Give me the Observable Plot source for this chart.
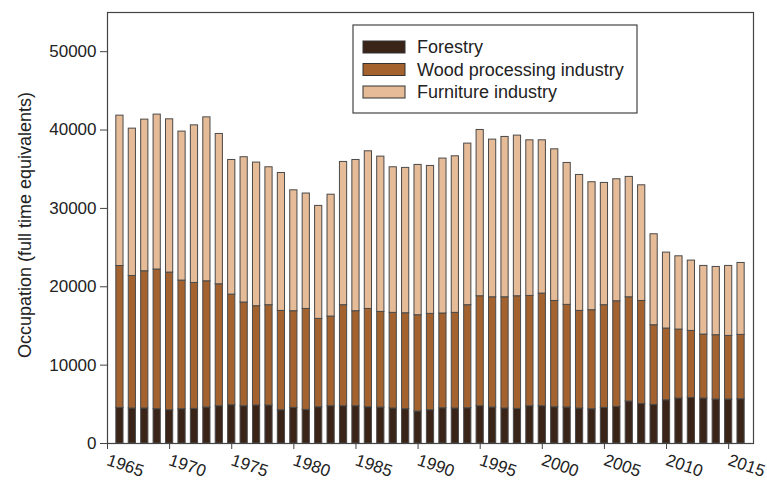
<!DOCTYPE html>
<html>
<head>
<meta charset="utf-8">
<script src="https://cdn.jsdelivr.net/npm/d3@7"></script>
<script src="https://cdn.jsdelivr.net/npm/@observablehq/plot@0.6"></script>
<style>
  html, body { margin: 0; padding: 0; background: #fff; }
  #chart svg { display: block; font-family: "Liberation Sans", Arial, sans-serif; }
</style>
</head>
<body>
<div id="chart"></div>
<script>
// Years shown by the bars
const years = d3.range(1966, 2017);
const seriesNames = ["Forestry", "Wood processing industry", "Furniture industry"];
const seriesColors = ["#3a2418", "#a3622e", "#e6bb97"];
const yTicks = [0, 10000, 20000, 30000, 40000, 50000];
const xTicks = [1965, 1970, 1975, 1980, 1985, 1990, 1995, 2000, 2005, 2010, 2015];

const forestry = [4540,4470,4470,4380,4250,4380,4420,4590,4760,4890,
  4760,4850,4850,4250,4540,4290,4630,4760,4760,4760,
  4630,4590,4470,4380,4080,4250,4500,4470,4500,4760,
  4590,4470,4420,4760,4760,4630,4590,4470,4380,4540,
  4670,5360,5050,4930,5520,5740,5820,5740,5610,5610,5650];
const wood = [18110,16910,17510,17820,17560,16410,16070,16110,15560,14110,
  13230,12670,12800,12670,12340,12880,11270,11440,12890,12120,
  12540,12200,12200,12240,12290,12290,12090,12200,13150,14030,
  14070,14190,14370,14070,14370,13560,13100,12450,12630,13110,
  13480,13300,13140,10160,9150,8800,8550,8160,8210,8120,8210];
const furniture = [19190,18800,19350,19770,19560,19010,20110,20920,19180,17180,
  18540,18330,17600,17600,15430,14730,14420,15550,18280,19300,
  20120,19820,18580,18550,19180,18880,19770,19980,20620,21220,
  20120,20460,20500,19860,19560,19350,18110,17350,16330,15600,
  15570,15360,14760,11610,9690,9350,8970,8760,8710,8930,9180];

// Build stacked table
const table = [];
years.forEach((yr, i) => {
  let base = 0;
  [forestry, wood, furniture].forEach((arr, s) => {
    table.push({year: yr, series: seriesNames[s], y1: base, y2: base + arr[i]});
    base += arr[i];
  });
});

const W = 767, H = 483;
const mL = 107, mR = 14, mT = 12, mB = 40;
const fontFam = '"Liberation Sans", Arial, sans-serif';

const plot = Plot.plot({
  width: W, height: H,
  marginLeft: mL, marginRight: mR, marginTop: mT, marginBottom: mB,
  style: {fontFamily: fontFam, color: "#222", background: "#fff", overflow: "visible"},
  x: {type: "linear", domain: [1965, 2017]},
  y: {domain: [0, 55000]},
  color: {domain: seriesNames, range: seriesColors},
  marks: [
    Plot.rect(table, {
      x1: d => d.year - 0.29, x2: d => d.year + 0.29,
      y1: "y1", y2: "y2", fill: "series",
      stroke: "#4a4a4a", strokeWidth: 1
    }),
    Plot.frame({stroke: "#444", strokeWidth: 1.2}),
    Plot.axisY({ticks: yTicks, tickFormat: d => String(d), tickSize: 7, tickPadding: 4,
      fontSize: 17, label: null, stroke: "#444"}),
    Plot.axisX({ticks: xTicks, tickFormat: d => String(d), tickSize: 6, tickPadding: 10,
      tickRotate: 19, fontSize: 17, label: null, stroke: "#444"}),
    Plot.text(["Occupation (full time equivalents)"], {
      frameAnchor: "left", dx: -82, dy: -3, rotate: -90, fontSize: 18, fill: "#222",
      textAnchor: "middle"
    })
  ]
});

document.getElementById("chart").appendChild(plot);

// Legend inside the plot area
const svg = d3.select(plot);
const lg = svg.append("g").attr("font-family", fontFam).attr("font-size", 18)
  .attr("fill", "#222").attr("text-anchor", "start");
lg.append("rect").attr("x", 353).attr("y", 25).attr("width", 284).attr("height", 88)
  .attr("fill", "#fff").attr("stroke", "#444").attr("stroke-width", 1.2);
seriesNames.forEach((name, i) => {
  const cy = 47 + i * 22.5;
  lg.append("rect").attr("x", 363).attr("y", cy - 6).attr("width", 42).attr("height", 12)
    .attr("fill", seriesColors[i]).attr("stroke", "#333").attr("stroke-width", 1);
  lg.append("text").attr("x", 417).attr("y", cy).attr("dy", "0.35em")
    .attr("text-anchor", "start").text(name);
});
</script>
</body>
</html>
